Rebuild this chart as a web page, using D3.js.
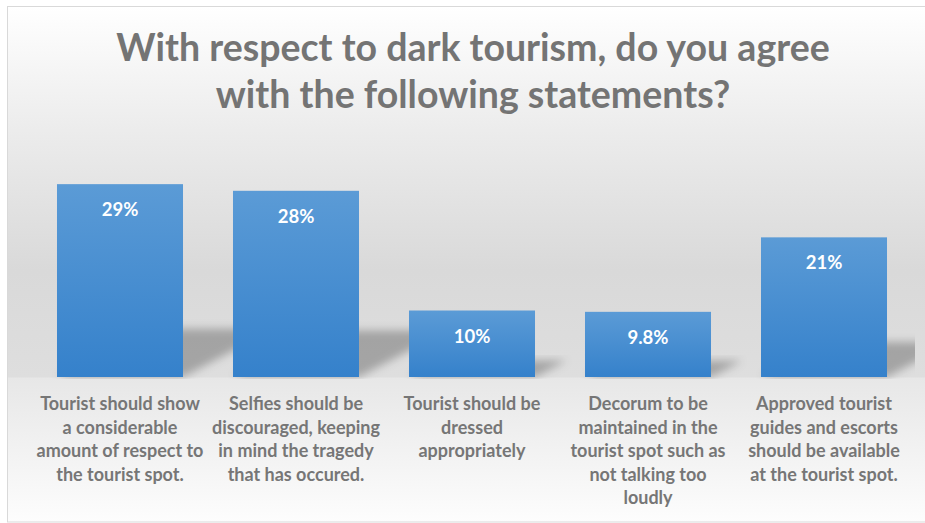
<!DOCTYPE html>
<html>
<head>
<meta charset="utf-8">
<script src="https://cdn.jsdelivr.net/npm/d3@7"></script>
<style>
  html, body { margin: 0; padding: 0; background: #ffffff; }
  svg { display: block; }
</style>
</head>
<body>
<svg id="chart" width="925" height="523"></svg>
<script>
// Survey categories (line breaks as shown under each bar)
const categories = [
  "Tourist should show\na considerable\namount of respect to\nthe tourist spot.",
  "Selfies should be\ndiscouraged, keeping\nin mind the tragedy\nthat has occured.",
  "Tourist should be\ndressed\nappropriately",
  "Decorum to be\nmaintained in the\ntourist spot such as\nnot talking too\nloudly",
  "Approved tourist\nguides and escorts\nshould be available\nat the tourist spot."
];
// Share of respondents (%)
const values = [29, 28, 10, 9.8, 21];
const valueLabels = ["29%", "28%", "10%", "9.8%", "21%"];
const titleLines = [
  "With respect to dark tourism, do you agree",
  "with the following statements?"
];

const W = 925, H = 523;
const svg = d3.select("#chart");
const defs = svg.append("defs");

const baseY = 377;

// Chart-area background: light at top and bottom, grey in the middle
const bg = defs.append("linearGradient")
  .attr("id", "bgGrad").attr("gradientUnits", "userSpaceOnUse")
  .attr("x1", 0).attr("y1", 6).attr("x2", 0).attr("y2", H);
[
  [0, "#ffffff"], [(130 - 6) / (H - 6), "#ececec"], [(270 - 6) / (H - 6), "#d9d9d9"],
  [(baseY - 6) / (H - 6), "#dedede"], [(baseY + 1 - 6) / (H - 6), "#e7e7e7"], [1, "#fdfdfd"]
].forEach(([o, c]) => bg.append("stop").attr("offset", o).attr("stop-color", c));

// Bar fill gradient
const bar = defs.append("linearGradient")
  .attr("id", "barGrad").attr("x1", 0).attr("y1", 0).attr("x2", 0).attr("y2", 1);
bar.append("stop").attr("offset", 0).attr("stop-color", "#5b9bd6");
bar.append("stop").attr("offset", 1).attr("stop-color", "#3581cb");

// Soft shadow blur
defs.append("filter").attr("id", "shadowBlur")
  .attr("x", "-30%").attr("y", "-30%").attr("width", "160%").attr("height", "160%")
  .append("feGaussianBlur").attr("stdDeviation", 4);

defs.append("clipPath").attr("id", "plotClip")
  .append("rect").attr("x", 8).attr("y", 130).attr("width", 907).attr("height", baseY - 130 + 2);

// Chart area with thin border
svg.append("rect")
  .attr("x", 7.5).attr("y", 6.5).attr("width", W).attr("height", H - 7.5)
  .attr("fill", "url(#bgGrad)").attr("stroke", "#d9d9d9").attr("stroke-width", 1);

// Scales
const x = d3.scaleBand()
  .domain(d3.range(categories.length))
  .range([32, 912])
  .paddingInner(0.284)
  .paddingOuter(0.142);

const y = d3.scaleLinear().domain([0, 35]).range([baseY, baseY - 35 * 6.65]);

// Perspective shadows behind bars
const shadowScale = 0.25, skew = 1.9;
svg.append("g").attr("clip-path", "url(#plotClip)")
  .selectAll("path").data(values).join("path")
  .attr("d", (v, i) => {
    const x0 = x(i), x1 = x(i) + x.bandwidth();
    const hs = (baseY - y(v)) * shadowScale;
    const dx = hs * skew;
    return `M${x0},${baseY}L${x1},${baseY}L${x1 + dx},${baseY - hs}L${x0 + dx},${baseY - hs}Z`;
  })
  .attr("fill", "#000").attr("fill-opacity", 0.26)
  .attr("filter", "url(#shadowBlur)");

// Bars
svg.append("g").selectAll("rect").data(values).join("rect")
  .attr("x", (v, i) => x(i))
  .attr("y", v => y(v))
  .attr("width", x.bandwidth())
  .attr("height", v => baseY - y(v))
  .attr("fill", "url(#barGrad)");

// Value labels inside bar tops
svg.append("g").selectAll("text").data(values).join("text")
  .attr("x", (v, i) => x(i) + x.bandwidth() / 2)
  .attr("y", v => y(v) + 32)
  .attr("text-anchor", "middle")
  .attr("font-family", "Lato, 'Open Sans', sans-serif")
  .attr("font-weight", 700)
  .attr("font-size", 18.5)
  .attr("fill", "#ffffff")
  .text((v, i) => valueLabels[i]);

// Category axis labels (multi-line)
const xAxis = d3.axisBottom(x).tickSize(0).tickFormat("");
const axisG = svg.append("g").attr("transform", `translate(0,${baseY})`).call(xAxis);
axisG.select(".domain").remove();
axisG.selectAll(".tick").each(function (d) {
  const t = d3.select(this).append("text")
    .attr("text-anchor", "middle")
    .attr("font-family", "Lato, 'Open Sans', sans-serif")
    .attr("font-weight", 700)
    .attr("font-size", 18)
    .attr("fill", "#767676");
  categories[d].split("\n").forEach((line, k) => {
    t.append("tspan").attr("x", 0).attr("y", 33 + k * 23.6).text(line);
  });
});

// Title
const title = svg.append("text")
  .attr("text-anchor", "middle")
  .attr("font-family", "Lato, 'Open Sans', sans-serif")
  .attr("font-weight", 700)
  .attr("font-size", 37.5)
  .attr("fill", "#747474");
titleLines.forEach((line, k) => {
  title.append("tspan").attr("x", 473).attr("y", 61 + k * 47).text(line);
});
</script>
</body>
</html>
